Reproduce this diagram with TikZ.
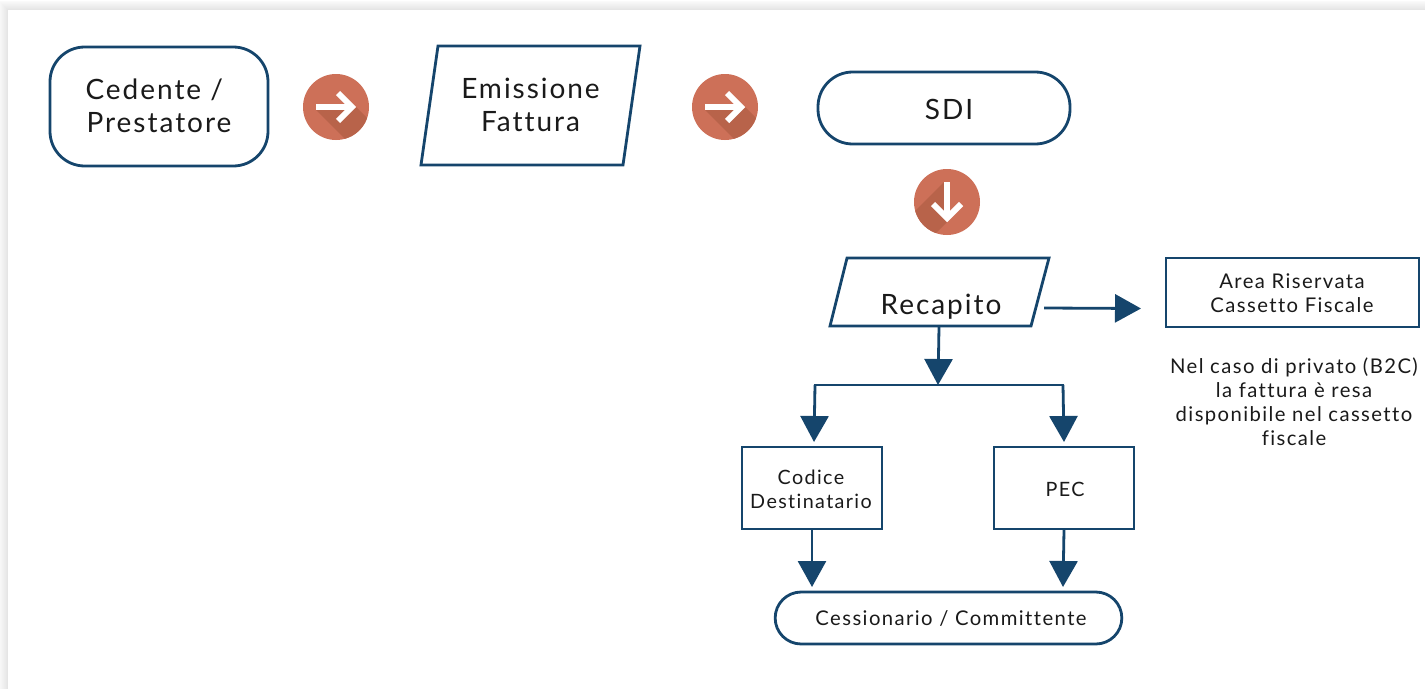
\documentclass[tikz,border=0pt]{standalone}
\usepackage{fontspec}
\setmainfont[LetterSpace=7,Ligatures=NoCommon]{Lato}
\usetikzlibrary{arrows.meta}
\definecolor{navy}{HTML}{15456C}
\definecolor{icona}{HTML}{CD7058}
\definecolor{iconb}{HTML}{B8634A}
\definecolor{txt}{HTML}{1A1A1A}
\tikzset{
  x=0.75pt,y=-0.75pt,
  shape outline/.style={draw=navy,line width=2.1pt,fill=white,line join=miter},
  roundbox/.style={shape outline,rectangle,rounded corners=#1,inner sep=0pt},
  squarebox/.style={shape outline,rectangle,inner sep=0pt},
  label big/.style={font=\fontsize{21}{24.75}\selectfont,text=txt,align=center,inner sep=0pt},
  label mid/.style={font=\fontsize{15.2}{18}\selectfont,text=txt,align=center,inner sep=0pt},
  label small/.style={font=\fontsize{14.8}{18}\selectfont,text=txt,align=center,inner sep=0pt},
  flow/.style={draw=navy,line width=2.1pt,-{Triangle[width=21pt,length=19.5pt,fill=navy]}},
  plainflow/.style={draw=navy,line width=2.1pt},
  badge/.style={circle,fill=icona,draw=none,minimum size=49.5pt,inner sep=0pt},
  badgearrow/.style={draw=white,line width=4.5pt,line join=miter,miter limit=10},
}
\newcommand{\rightbadge}[3]{%
  \node[badge] (#1) at (#2,#3) {};
  \begin{scope}[shift={(#2,#3)}]
    \begin{scope}
      \clip (0,0) circle[radius=33];
      \fill[iconb] (-20,3) -- (16,3) -- (20,0) -- (50,30) -- (50,50) -- (27,50) -- cycle;
    \end{scope}
    \draw[badgearrow] (-20,0) -- (16,0);
    \draw[badgearrow] (2,-14) -- (16,0) -- (2,14);
  \end{scope}}
\newcommand{\downbadge}[3]{%
  \node[badge] (#1) at (#2,#3) {};
  \begin{scope}[shift={(#2,#3)}]
    \begin{scope}
      \clip (0,0) circle[radius=33];
      \fill[iconb] (-3,-20) -- (-3,15) -- (0,20) -- (-30,50) -- (-50,50) -- (-50,27) -- cycle;
    \end{scope}
    \draw[badgearrow] (0,-20) -- (0,16);
    \draw[badgearrow] (-14,2) -- (0,16) -- (14,2);
  \end{scope}}
\begin{document}
\begin{tikzpicture}
\useasboundingbox (0,0) rectangle (1425,689);
\fill[white] (0,0) rectangle (1425,689);
% sheet shadow
\foreach \i/\g in {9/98,8/97,7/96,6/95,5/94,4/93,3/92,2/91,1/90}{
  \fill[black!\the\numexpr100-\g\relax] (8-\i,10-\i) rectangle (1430,695);
}
\fill[white] (8,10) rectangle (1430,695);

% outlines
\node[roundbox=26pt,minimum width=163.5pt,minimum height=89.25pt] (cedente) at (159,106.5) {};
\node[label big] at (159,106) {\hspace*{-7pt}Cedente /\\Prestatore};

\coordinate (em1) at (438,46); \coordinate (em2) at (640,46);
\coordinate (em3) at (623,165); \coordinate (em4) at (421,165);
\draw[shape outline] (em1) -- (em2) -- (em3) -- (em4) -- cycle;
\node[label big] (emissione) at (530.5,105) {Emissione\\Fattura};

\node[roundbox=26pt,minimum width=189pt,minimum height=54pt] (sdi) at (944,108) {};
\node[label big] at (949,109) {SDI};

\coordinate (re1) at (847,258); \coordinate (re2) at (1049,258);
\coordinate (re3) at (1031,326); \coordinate (re4) at (830,326);
\draw[shape outline] (re1) -- (re2) -- (re3) -- (re4) -- cycle;
\node[label big] (recapito) at (941,307) {Recapito};

\node[squarebox,minimum width=189.75pt,minimum height=51.75pt] (area) at (1292.5,292.5) {};
\node[label mid] at (1292,293) {Area Riservata\\Cassetto Fiscale};
\node[label mid] (nota) at (1294,402) {Nel caso di privato (B2C)\\la fattura è resa\\disponibile nel cassetto\\fiscale};

\node[squarebox,minimum width=105pt,minimum height=61.5pt] (codice) at (812,488) {};
\node[label small] at (811,489) {Codice\\Destinatario};
\node[squarebox,minimum width=105pt,minimum height=61.5pt] (pec) at (1064,488) {};
\node[label small] at (1065,489) {PEC};
\node[roundbox=19.5pt,minimum width=260pt,minimum height=39pt] (cess) at (948.5,618) {};
\node[label mid] at (951,618) {Cessionario / Committente};

% badges
\rightbadge{badgeA}{336}{107}
\rightbadge{badgeB}{725}{107}
\downbadge{badgeC}{947}{202}

% connectors
\coordinate (rout) at (1044,308);
\coordinate (areain) at (1141,308.5);
\coordinate (rdown) at (939,327);
\coordinate (junction) at (938,385);
\coordinate (jl) at (815,385);
\coordinate (jr) at (1063,385);
\coordinate (cin) at (814,442);
\coordinate (pin) at (1064,442);
\coordinate (cout) at (812,530);
\coordinate (pout) at (1064,530);
\coordinate (csin) at (812,587);
\coordinate (psin) at (1063,587);
\draw[flow] (rout) -- (areain);
\draw[flow] (rdown) -- (junction);
\draw[plainflow,line cap=rect] (jl) -- (jr);
\draw[flow] (jl) -- (cin);
\draw[flow] (jr) -- (pin);
\draw[flow] (cout) -- (csin);
\draw[flow] (pout) -- (psin);
\end{tikzpicture}
\end{document}
